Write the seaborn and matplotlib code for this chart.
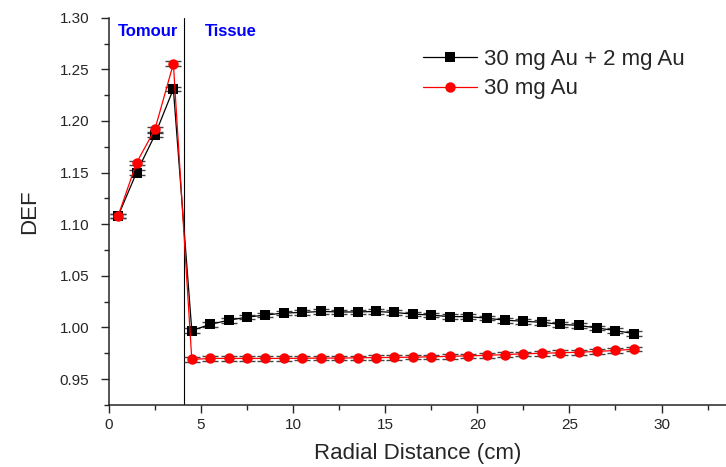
import pandas as pd
import numpy as np
import matplotlib
matplotlib.use("Agg")
import matplotlib.pyplot as plt
from matplotlib.ticker import MultipleLocator
import seaborn as sns

# radial positions (cm)
radial = [0.5, 1.5, 2.5, 3.5] + [4.5 + i for i in range(25)]

# DEF, 30 mg Au + 2 mg Au
def_combo = [1.108, 1.150, 1.1865, 1.231,
             0.997, 1.003, 1.007, 1.010, 1.012, 1.014, 1.0145, 1.0155, 1.015,
             1.015, 1.0155, 1.0145, 1.013, 1.012, 1.0105, 1.0105, 1.009, 1.007,
             1.006, 1.005, 1.003, 1.002, 0.9995, 0.997, 0.994]

# DEF, 30 mg Au
def_single = [1.108, 1.1595, 1.192, 1.2555,
              0.969, 0.970, 0.970, 0.970, 0.970, 0.970, 0.9702, 0.9703, 0.9703,
              0.9706, 0.9708, 0.971, 0.9712, 0.9716, 0.972, 0.9725, 0.973, 0.9737,
              0.9745, 0.975, 0.9755, 0.976, 0.9768, 0.9777, 0.979]

series_names = ["30 mg Au + 2 mg Au", "30 mg Au"]
err = 0.0022

df = pd.DataFrame({
    "Radial": radial * 2,
    "DEF": def_combo + def_single,
    "series": [series_names[0]] * len(radial) + [series_names[1]] * len(radial),
})

sns.set_style("ticks")
plt.rcParams["font.family"] = ["Liberation Sans", "DejaVu Sans"]

fig = plt.figure(figsize=(7.26, 4.67), dpi=100)
ax = fig.add_axes([0.150, 0.133, 0.850, 0.829])

colors = {series_names[0]: "black", series_names[1]: "red"}
markers = {series_names[0]: "s", series_names[1]: "o"}

# error bar caps
for name, vals in zip(series_names, [def_combo, def_single]):
    ax.errorbar(radial, vals, yerr=err, fmt="none", ecolor="#444444",
                elinewidth=0.8, capsize=6, capthick=1.0, zorder=2)

sns.lineplot(data=df, x="Radial", y="DEF", hue="series", style="series",
             palette=colors, markers=markers, dashes=False, linewidth=0.9,
             markersize=7.5, markeredgewidth=0, ax=ax, zorder=3, sort=False)

ax.axvline(4.05, color="black", linewidth=0.8, zorder=1)

ax.set_xlim(0, 33.5)
ax.set_ylim(0.925, 1.30)
ax.xaxis.set_major_locator(MultipleLocator(5))
ax.xaxis.set_minor_locator(MultipleLocator(2.5))
ax.yaxis.set_major_locator(MultipleLocator(0.05))
ax.yaxis.set_minor_locator(MultipleLocator(0.025))
ax.yaxis.set_major_formatter(matplotlib.ticker.FormatStrFormatter("%.2f"))
ax.tick_params(which="major", direction="out", length=6, width=1, labelsize=11)
ax.tick_params(axis="y", which="major", pad=8)
ax.tick_params(which="minor", direction="out", length=3.5, width=1)
sns.despine(ax=ax)
for s in ["left", "bottom"]:
    ax.spines[s].set_linewidth(1.1)

ax.set_xlabel("Radial Distance (cm)", fontsize=16, labelpad=8)
ax.set_ylabel("DEF", fontsize=16, labelpad=14)

ax.text(0.5, 1.294, "Tomour", color="blue", fontsize=12, fontweight="bold",
        va="top", ha="left")
ax.text(5.2, 1.294, "Tissue", color="blue", fontsize=12, fontweight="bold",
        va="top", ha="left")

ax.legend(title=None, frameon=False, fontsize=16, loc="upper right",
          bbox_to_anchor=(0.966, 0.972), handlelength=2.4, handletextpad=0.35,
          labelspacing=0.4)

fig.savefig("out.png", dpi=100)
